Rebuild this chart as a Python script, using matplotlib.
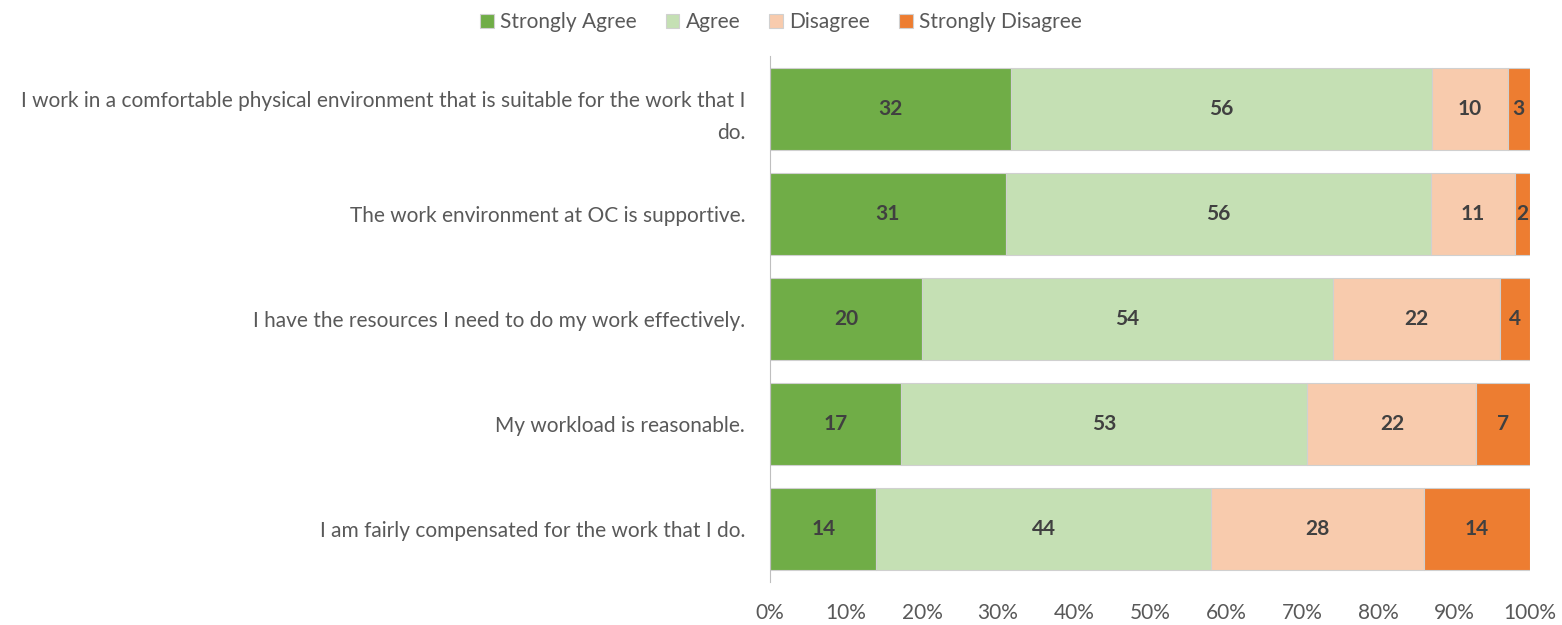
import numpy as np
import matplotlib.pyplot as plt

plt.rcParams["font.family"] = ["Lato", "DejaVu Sans"]

questions = [
    "I work in a comfortable physical environment that is suitable for the work that I\ndo.",
    "The work environment at OC is supportive.",
    "I have the resources I need to do my work effectively.",
    "My workload is reasonable.",
    "I am fairly compensated for the work that I do.",
]
categories = ["Strongly Agree", "Agree", "Disagree", "Strongly Disagree"]
strongly_agree = [32, 31, 20, 17, 14]
agree = [56, 56, 54, 53, 44]
disagree = [10, 11, 22, 22, 28]
strongly_disagree = [3, 2, 4, 7, 14]
colors = ["#70AD47", "#C5E0B4", "#F8CBAD", "#ED7D31"]

counts = np.array([strongly_agree, agree, disagree, strongly_disagree], dtype=float)
shares = counts / counts.sum(axis=0) * 100  # 100% stacked

fig = plt.figure(figsize=(15.62, 6.25), dpi=100)
ax = fig.add_axes([0.493, 0.069, 0.4866, 0.841])

y = np.arange(len(questions))
left = np.zeros(len(questions))
for i, (name, col) in enumerate(zip(categories, colors)):
    ax.barh(y, shares[i], left=left, height=0.78, color=col, label=name,
            edgecolor="#d0d0d0", linewidth=0.8)
    for yy, l, w, v in zip(y, left, shares[i], counts[i]):
        ax.text(l + w / 2, yy, f"{int(v)}", ha="center", va="center",
                fontsize=15, fontweight="bold", color="#404040")
    left += shares[i]

ax.set_xlim(0, 100)
ax.set_ylim(len(questions) - 0.5, -0.5)
ax.set_xticks(np.arange(0, 101, 10))
ax.set_xticklabels([f"{t}%" for t in range(0, 101, 10)])
ax.set_yticks(y)
ax.set_yticklabels(questions, linespacing=1.75)
ax.tick_params(axis="x", length=0, labelsize=15, colors="#595959", pad=15)
ax.tick_params(axis="y", length=0, labelsize=15, colors="#595959", pad=18)
for s in ["top", "right", "bottom"]:
    ax.spines[s].set_visible(False)
ax.spines["left"].set_color("#bfbfbf")

fig.legend(loc="upper center", bbox_to_anchor=(0.5, 1.01), ncol=4, frameon=False,
           fontsize=15, handlelength=0.65, handleheight=0.65, handletextpad=0.3,
           columnspacing=1.4, labelcolor="#595959")

fig.savefig("out.png", dpi=100)
